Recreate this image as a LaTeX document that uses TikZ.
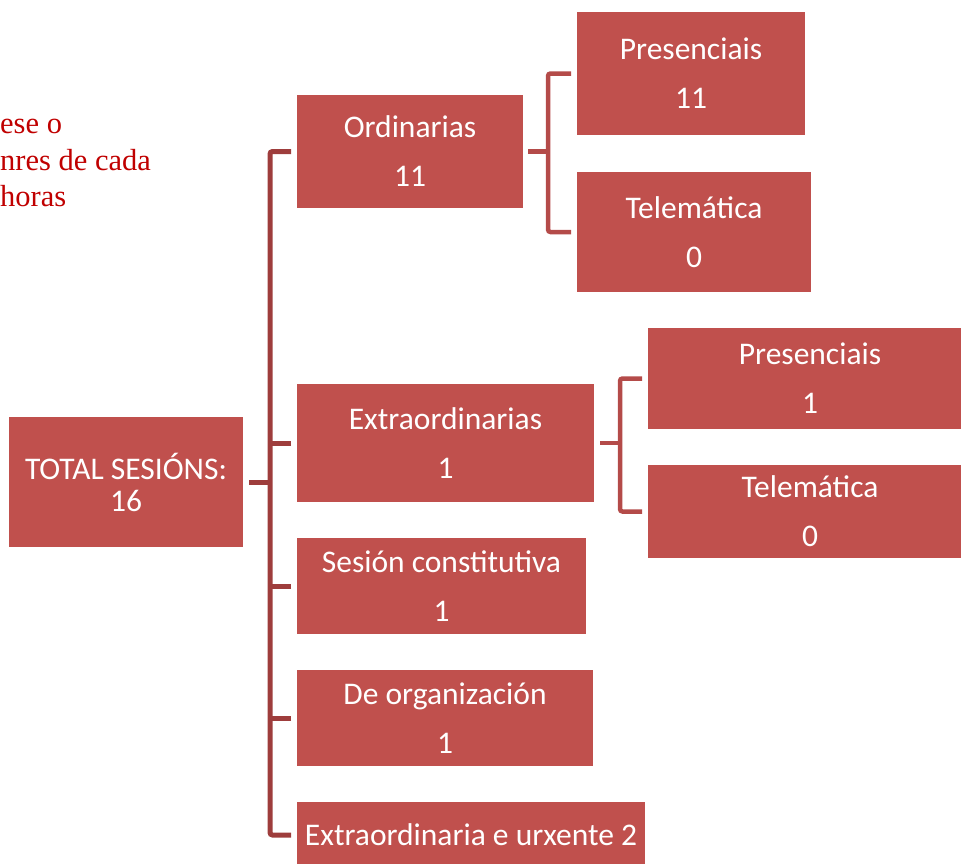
\documentclass[tikz,border=0pt]{standalone}
\usepackage{fontspec}
\setmainfont{Carlito}
\newfontfamily\notefont{Liberation Serif}
\definecolor{boxred}{HTML}{C0504D}
\definecolor{mainline}{HTML}{9E3D3C}
\definecolor{subline}{HTML}{B44B49}
\definecolor{notered}{HTML}{C00000}
\tikzset{
  box/.style={rectangle, fill=boxred, draw=none, text=white, align=center, inner sep=0pt, outer sep=0pt,
    font=\fontsize{31.5}{49}\selectfont},
  rootbox/.style={box, font=\fontsize{31.5}{34}\selectfont},
  mainconn/.style={draw=mainline, line width=5pt, rounded corners=2.5pt},
  subconn/.style={draw=subline, line width=4.5pt, rounded corners=2.5pt},
  note/.style={anchor=base west, inner sep=0pt, text=notered, font=\notefont\fontsize{30.5}{36}\selectfont}
}
\begin{document}
\begin{tikzpicture}[x=1pt,y=-1pt]
\useasboundingbox (0,0) rectangle (961,863);
\clip (0,0) rectangle (961,863);
% notes (clipped text)
\node[note] (n1) at (0,133) {ese o};
\node[note] (n2) at (0,170) {nres de cada};
\node[note] (n3) at (0,206) {horas};
% boxes
\node[rootbox, minimum width=234pt, minimum height=130pt] (root) at (126,482) {TOTAL SESIÓNS:\\[-2pt]16};
\node[box, minimum width=226pt, minimum height=113pt] (ord) at (410,151.5) {Ordinarias\\11};
\node[box, minimum width=228pt, minimum height=123pt] (p1) at (691,73.5) {Presenciais\\11};
\node[box, minimum width=234pt, minimum height=120pt] (t1) at (694,232) {Telemática\\0};
\node[box, minimum width=297pt, minimum height=118pt] (ext) at (445.5,443) {Extraordinarias\\1};
\node[box, minimum width=324pt, minimum height=101pt] (p2) at (810,378.5) {Presenciais\\1};
\node[box, minimum width=324pt, minimum height=93pt] (t2) at (810,511.5) {Telemática\\0};
\node[box, minimum width=289pt, minimum height=96pt] (ses) at (441.5,586) {Sesión constitutiva\\1};
\node[box, minimum width=296pt, minimum height=96pt] (org) at (445,718) {De organización\\1};
\node[box, minimum width=348pt, minimum height=66pt] (urx) at (471,835) {Extraordinaria e urxente 2};
% trunk coordinates
\coordinate (trunk) at (270,0);
\coordinate (s1) at (548,0);
\coordinate (s2) at (620,0);
% main connectors
\draw[mainconn] ([xshift=-6pt]ord.west) -| (trunk |- urx.west) -- ([xshift=-6pt]urx.west);
\draw[mainconn] ([xshift=-6pt]ext.west) -- (trunk |- ext.west);
\draw[mainconn] ([xshift=-6pt]ses.west) -- (trunk |- ses.west);
\draw[mainconn] ([xshift=-6pt]org.west) -- (trunk |- org.west);
\draw[mainconn] ([xshift=6pt]root.east) -- (trunk |- root.east);
% sub connectors
\draw[subconn] ([xshift=-6pt]p1.west) -| (s1 |- t1.west) -- ([xshift=-6pt]t1.west);
\draw[subconn] ([xshift=5pt]ord.east) -- (s1 |- ord.east);
\draw[subconn] ([xshift=-6pt]p2.west) -| (s2 |- t2.west) -- ([xshift=-6pt]t2.west);
\draw[subconn] ([xshift=6pt]ext.east) -- (s2 |- ext.east);
\end{tikzpicture}
\end{document}
